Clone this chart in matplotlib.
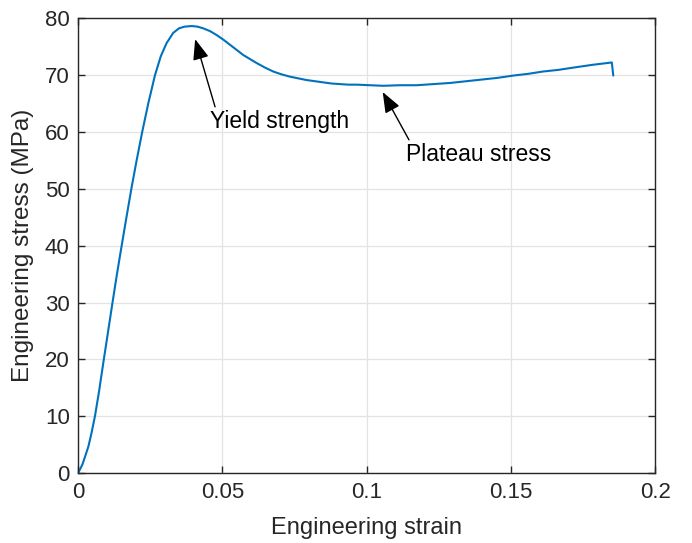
import numpy as np
import matplotlib
matplotlib.use('Agg')
import matplotlib.pyplot as plt

plt.rcParams['font.family'] = ['Liberation Sans', 'DejaVu Sans']

# engineering strain / stress (MPa) of the compression test
strain = [0.0, 0.0015, 0.0025, 0.0036, 0.0047, 0.0059, 0.0073, 0.0088,
          0.0104, 0.0119, 0.0135, 0.0152, 0.0169, 0.0186, 0.0204, 0.0223,
          0.0244, 0.0267, 0.0287, 0.0307, 0.0330, 0.0350, 0.0370, 0.0394,
          0.0414, 0.0434, 0.0458, 0.0481, 0.0504, 0.0527, 0.0550, 0.0573,
          0.0596, 0.0619, 0.0648, 0.0677, 0.0706, 0.0735, 0.0764, 0.0793,
          0.0822, 0.0850, 0.0879, 0.0908, 0.0937, 0.0966, 0.1012, 0.1058,
          0.1116, 0.1174, 0.1232, 0.1290, 0.1345, 0.1400, 0.1455, 0.1509,
          0.1560, 0.1610, 0.1665, 0.1717, 0.1785, 0.1850, 0.1855]
stress = [0.0, 1.5, 3.0, 4.7, 7.1, 10.1, 14.4, 19.5,
          24.8, 29.8, 35.0, 40.2, 45.3, 50.3, 55.2, 60.1,
          65.1, 70.0, 73.3, 75.6, 77.4, 78.2, 78.5, 78.6,
          78.5, 78.2, 77.7, 77.0, 76.2, 75.3, 74.4, 73.5,
          72.8, 72.1, 71.3, 70.6, 70.1, 69.7, 69.4, 69.1,
          68.9, 68.7, 68.5, 68.4, 68.3, 68.3, 68.2, 68.1,
          68.2, 68.2, 68.4, 68.6, 68.9, 69.2, 69.5, 69.9,
          70.2, 70.6, 70.9, 71.3, 71.8, 72.2, 69.9]

dark = '#262626'
blue = '#0072BD'

fig = plt.figure(figsize=(6.92, 5.43), dpi=100)
ax = fig.add_axes([0.1127, 0.1284, 0.834, 0.8383])

ax.plot(strain, stress, color=blue, linewidth=1.5,
        solid_joinstyle='round', solid_capstyle='round')

ax.set_xlim(0, 0.2)
ax.set_ylim(0, 80)
ax.set_xticks([0, 0.05, 0.1, 0.15, 0.2])
ax.set_xticklabels(['0', '0.05', '0.1', '0.15', '0.2'])
ax.set_yticks(np.arange(0, 81, 10))
ax.grid(True, color='#e3e3e3', linewidth=0.9)
ax.set_axisbelow(True)

for sp in ax.spines.values():
    sp.set_color(dark)
    sp.set_linewidth(1.0)
ax.tick_params(direction='in', length=5, width=1.0, colors=dark,
               labelsize=16, top=True, right=True, pad=6)
ax.set_xlabel('Engineering strain', fontsize=17, color=dark, labelpad=10)
ax.set_ylabel('Engineering stress (MPa)', fontsize=17.5, color=dark, labelpad=8)

arrow = dict(arrowstyle='-|>,head_length=0.9,head_width=0.35',
             color='black', linewidth=1.0, shrinkA=0, shrinkB=0,
             mutation_scale=14)
ax.annotate('', xy=(0.0406, 76.3), xytext=(0.0475, 64.4), arrowprops=arrow)
ax.text(0.0457, 61.8, 'Yield strength', fontsize=16.5, color='black',
        ha='left', va='center')
ax.annotate('', xy=(0.1056, 67.0), xytext=(0.1147, 58.6), arrowprops=arrow)
ax.text(0.1135, 56.0, 'Plateau stress', fontsize=16.5, color='black',
        ha='left', va='center')

fig.savefig('out.png', dpi=100)
